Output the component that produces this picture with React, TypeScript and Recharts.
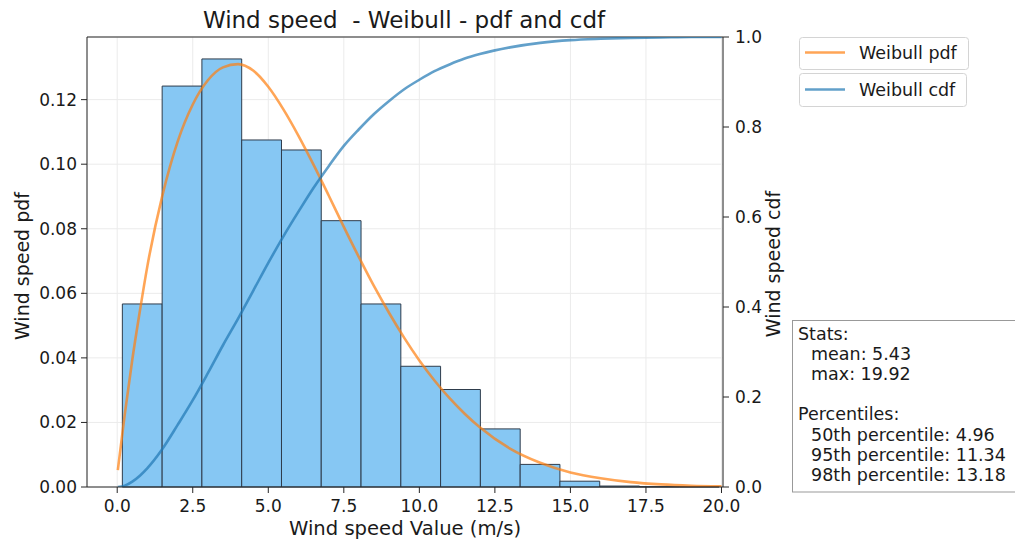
import React from 'react';
import {
  ComposedChart,
  Line,
  XAxis,
  YAxis,
  CartesianGrid,
  ReferenceArea,
  ReferenceLine,
} from 'recharts';

// histogram (density)
const binEdges = [0.17, 1.487, 2.803, 4.12, 5.437, 6.753, 8.07, 9.387, 10.703, 12.02, 13.337, 14.653, 15.97, 17.287, 18.603, 19.92];
const binDensity = [0.0567, 0.1242, 0.1326, 0.1075, 0.1044, 0.0825, 0.0567, 0.0374, 0.0302, 0.018, 0.007, 0.0018, 0.0003, 0.0001, 0.0001];

// fitted curves
const curveX = [0.02, 0.25, 0.5, 0.75, 1, 1.5, 2, 2.5, 3, 3.5, 4, 4.5, 5, 5.5, 6, 6.5, 7, 7.5, 8, 8.5, 9, 9.5, 10, 10.5, 11, 11.5, 12, 13, 14, 15, 16, 17, 18, 19, 20];
const pdfValues = [0.0052, 0.0225, 0.0395, 0.0545, 0.0685, 0.0905, 0.107, 0.1185, 0.126, 0.13, 0.131, 0.129, 0.124, 0.117, 0.1088, 0.0998, 0.0903, 0.0806, 0.0712, 0.0622, 0.0539, 0.0462, 0.0392, 0.033, 0.0275, 0.0227, 0.0185, 0.0119, 0.0075, 0.0045, 0.0027, 0.0015, 0.0008, 0.0004, 0.0002];
const cdfValues = [0, 0.003, 0.012, 0.025, 0.042, 0.085, 0.138, 0.193, 0.253, 0.315, 0.374, 0.436, 0.498, 0.557, 0.612, 0.665, 0.713, 0.758, 0.795, 0.829, 0.858, 0.884, 0.905, 0.924, 0.939, 0.952, 0.962, 0.977, 0.987, 0.993, 0.996, 0.998, 0.999, 1, 1];

const xTicks = [0, 2.5, 5, 7.5, 10, 12.5, 15, 17.5, 20];
const pdfTicks = [0, 0.02, 0.04, 0.06, 0.08, 0.1, 0.12];
const cdfTicks = [0, 0.2, 0.4, 0.6, 0.8, 1];

const statsHeader = 'Stats:';
const statsLines = ['mean: 5.43', 'max: 19.92'];
const pctHeader = 'Percentiles:';
const pctLines = ['50th percentile: 4.96', '95th percentile: 11.34', '98th percentile: 13.18'];

const FONT = "'DejaVu Sans', sans-serif";
const PDF_COLOR = '#ff7f0e';
const CDF_COLOR = '#1f77b4';
const SPINE = '#262626';

export default function App() {
  const data = curveX.map((x, i) => ({ x, pdf: pdfValues[i], cdf: cdfValues[i] }));
  const tickStyle = { fontSize: 17, fill: '#1a1a1a', fontFamily: FONT };

  return (
    <div style={{ position: 'absolute', left: 0, top: 0, width: 1015, height: 542, background: '#fff', fontFamily: FONT }}>
      <ComposedChart
        width={1015}
        height={542}
        data={data}
        margin={{ top: 37, right: 242, bottom: 25, left: 27 }}
      >
        <CartesianGrid yAxisId="pdf" stroke="#ebebeb" strokeWidth={1} />
        <XAxis
          dataKey="x"
          type="number"
          domain={[-1, 20.05]}
          allowDataOverflow
          ticks={xTicks}
          tickFormatter={(v: number) => v.toFixed(1)}
          height={30}
          tickSize={6}
          tickMargin={7}
          tick={tickStyle}
          stroke={SPINE}
        />
        <YAxis
          yAxisId="pdf"
          domain={[0, 0.1394]}
          allowDataOverflow
          ticks={pdfTicks}
          tickFormatter={(v: number) => v.toFixed(2)}
          width={60}
          tickSize={6}
          tickMargin={4}
          tick={tickStyle}
          stroke={SPINE}
        />
        <YAxis
          yAxisId="cdf"
          orientation="right"
          domain={[0, 1]}
          allowDataOverflow
          ticks={cdfTicks}
          tickFormatter={(v: number) => v.toFixed(1)}
          width={50}
          tickSize={6}
          tickMargin={6}
          tick={tickStyle}
          stroke={SPINE}
        />
        {binDensity.map((h, i) => (
          <ReferenceArea
            key={i}
            yAxisId="pdf"
            x1={binEdges[i]}
            x2={binEdges[i + 1]}
            y1={0}
            y2={h}
            fill="#86c7f3"
            fillOpacity={1}
            stroke="#2e3c4c"
            strokeWidth={1}
          />
        ))}
        <ReferenceLine yAxisId="cdf" y={1} stroke={SPINE} strokeWidth={1.2} />
        <Line
          yAxisId="pdf"
          type="monotone"
          dataKey="pdf"
          stroke={PDF_COLOR}
          strokeOpacity={0.7}
          strokeWidth={2.6}
          dot={false}
          activeDot={false}
          isAnimationActive={false}
        />
        <Line
          yAxisId="cdf"
          type="monotone"
          dataKey="cdf"
          stroke={CDF_COLOR}
          strokeOpacity={0.7}
          strokeWidth={2.6}
          dot={false}
          activeDot={false}
          isAnimationActive={false}
        />
      </ComposedChart>

      {/* title, axis labels, legend and stats box */}
      <svg width={1015} height={542} style={{ position: 'absolute', left: 0, top: 0, pointerEvents: 'none' }} fontFamily={FONT}>
        <text x={404} y={28} textAnchor="middle" fontSize={23} fill="#1a1a1a" style={{ whiteSpace: 'pre' }}>{'Wind speed  - Weibull - pdf and cdf'}</text>
        <text x={405} y={535} textAnchor="middle" fontSize={19.6} fill="#1a1a1a">Wind speed Value (m/s)</text>
        <text x={29} y={266} textAnchor="middle" fontSize={19} fill="#1a1a1a" transform="rotate(-90, 29, 266)">Wind speed pdf</text>
        <text x={780} y={264} textAnchor="middle" fontSize={19} fill="#1a1a1a" transform="rotate(-90, 780, 264)">Wind speed cdf</text>

        <rect x={799.5} y={37.5} width={169} height={32} rx={3} fill="#fff" fillOpacity={0.8} stroke="#d4d4d4" />
        <line x1={805} x2={845} y1={52.5} y2={52.5} stroke={PDF_COLOR} strokeOpacity={0.7} strokeWidth={2.6} />
        <text x={859} y={59} fontSize={17.5} fill="#1a1a1a">Weibull pdf</text>
        <rect x={799.5} y={73.5} width={167} height={33} rx={3} fill="#fff" fillOpacity={0.8} stroke="#d4d4d4" />
        <line x1={805} x2={845} y1={89.5} y2={89.5} stroke={CDF_COLOR} strokeOpacity={0.7} strokeWidth={2.6} />
        <text x={859} y={96} fontSize={17.5} fill="#1a1a1a">Weibull cdf</text>

        <rect x={792.5} y={320.5} width={240} height={171.5} fill="#fff" stroke="#999" />
        <g fontSize={17.5} fill="#1a1a1a">
          <text x={798} y={340}>{statsHeader}</text>
          {statsLines.map((s, i) => (
            <text key={s} x={811} y={360.1 + i * 20.1}>{s}</text>
          ))}
          <text x={798} y={420.4}>{pctHeader}</text>
          {pctLines.map((s, i) => (
            <text key={s} x={811} y={440.5 + i * 20.1}>{s}</text>
          ))}
        </g>
      </svg>
    </div>
  );
}
